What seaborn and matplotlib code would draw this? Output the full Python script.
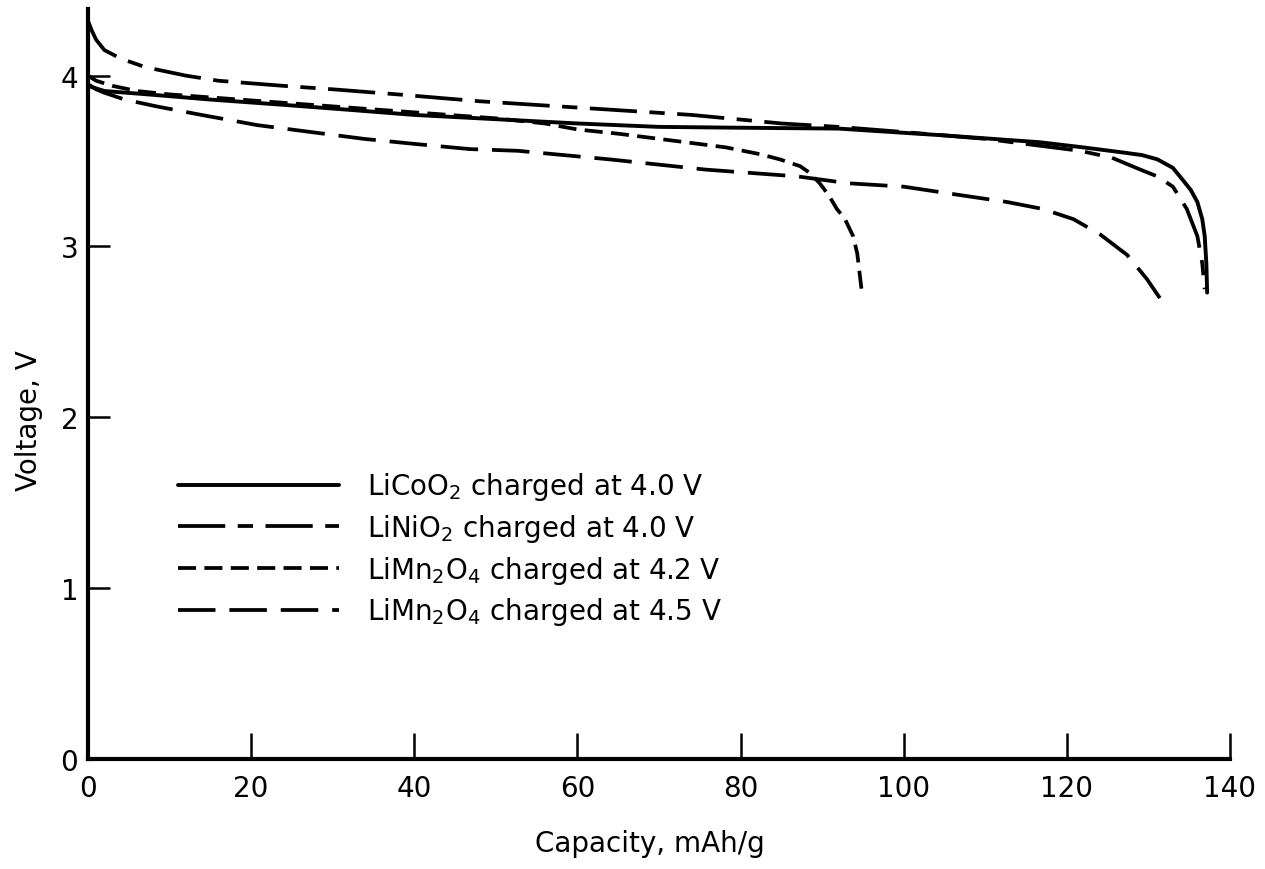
import matplotlib
matplotlib.use("Agg")
import matplotlib.pyplot as plt
import seaborn as sns

# Curvas de descarga
licoo2_cap = [0, 2, 7.4, 15, 23.7, 32, 40, 48, 60, 70, 80, 92, 105, 116.7, 122,
              126.9, 129.2, 131.1, 133.0, 134.2, 135.2, 136.0, 136.6, 136.9,
              137.1, 137.2]
licoo2_v = [3.94, 3.91, 3.89, 3.86, 3.83, 3.80, 3.77, 3.75, 3.72, 3.70, 3.695,
            3.69, 3.65, 3.61, 3.58, 3.55, 3.535, 3.51, 3.46, 3.39, 3.33, 3.26,
            3.16, 3.06, 2.90, 2.73]

linio2_cap = [0, 0.5, 1, 2, 4, 7, 12, 16, 24, 30, 38, 48, 61, 74, 85, 92, 100,
              110, 121.6, 125.5, 129.0, 131.1, 133.0, 134.7, 136.0, 136.6,
              136.9]
linio2_v = [4.32, 4.26, 4.21, 4.15, 4.10, 4.05, 4.00, 3.97, 3.94, 3.92, 3.89,
            3.85, 3.81, 3.77, 3.72, 3.70, 3.67, 3.63, 3.56, 3.52, 3.45, 3.41,
            3.35, 3.22, 3.06, 2.90, 2.75]

mn42_cap = [0, 1, 3, 6, 10, 20, 30, 40, 50, 56, 60, 65, 70, 78.2, 82.4, 84.8,
            87.3, 88.5, 89.7, 90.8, 91.8, 92.8, 93.8, 94.3, 94.6, 94.9]
mn42_v = [4.00, 3.97, 3.94, 3.91, 3.89, 3.855, 3.82, 3.785, 3.75, 3.72, 3.685,
          3.66, 3.63, 3.58, 3.54, 3.51, 3.47, 3.43, 3.37, 3.30, 3.22, 3.16,
          3.06, 2.96, 2.84, 2.72]

mn45_cap = [0, 1, 2, 4.5, 8.4, 13.9, 20.8, 27.3, 33.8, 40.1, 46.8, 52.7, 63.9,
            75.7, 87, 93.2, 100, 107, 112.7, 117, 120.8, 124.1, 127.4, 129.8,
            131.8]
mn45_v = [3.95, 3.92, 3.90, 3.86, 3.82, 3.77, 3.71, 3.67, 3.63, 3.60, 3.57,
          3.56, 3.51, 3.45, 3.41, 3.37, 3.35, 3.30, 3.26, 3.22, 3.16, 3.07,
          2.95, 2.81, 2.67]

rotulos = [
    r"LiCoO$_2$ charged at 4.0 V",
    r"LiNiO$_2$ charged at 4.0 V",
    r"LiMn$_2$O$_4$ charged at 4.2 V",
    r"LiMn$_2$O$_4$ charged at 4.5 V",
]
x_ticks = [0, 20, 40, 60, 80, 100, 120, 140]
y_ticks = [0, 1, 2, 3, 4]

sns.set_theme(style="white")
plt.rcParams["font.family"] = ["DejaVu Sans"]
plt.rcParams["lines.scale_dashes"] = False
plt.rcParams["mathtext.default"] = "regular"

fig = plt.figure(figsize=(12.65, 8.7), dpi=100)
ax = fig.add_axes([88 / 1265, 1 - 760 / 870, 1142 / 1265, 750 / 870])

series = [
    (licoo2_cap, licoo2_v, "-", 2.8),
    (linio2_cap, linio2_v, (0, (34, 9, 11, 9)), 2.7),
    (mn42_cap, mn42_v, (0, (13, 6)), 2.7),
    (mn45_cap, mn45_v, (0, (27, 10)), 2.7),
]
for (cap, v, ls, lw), rot in zip(series, rotulos):
    sns.lineplot(x=cap, y=v, ax=ax, color="black", linestyle=ls, linewidth=lw,
                 estimator=None, label=rot)

ax.set_xlim(0, 140)
ax.set_ylim(0, 4.39)
ax.set_xticks(x_ticks)
ax.set_yticks(y_ticks)

for lado in ["top", "right"]:
    ax.spines[lado].set_visible(False)
for lado in ["left", "bottom"]:
    ax.spines[lado].set_color("black")
    ax.spines[lado].set_linewidth(3)

ax.tick_params(axis="x", bottom=True, direction="in", length=19, width=1.8,
               pad=11, labelsize=20, colors="black")
ax.tick_params(axis="y", left=True, direction="in", length=16, width=1.8,
               pad=7, labelsize=20, colors="black")

ax.set_xlabel("Capacity, mAh/g", fontsize=20, color="black")
ax.set_ylabel("Voltage, V", fontsize=20, color="black")
ax.xaxis.set_label_coords(0.492, -0.093)
ax.yaxis.set_label_coords(-0.039, 0.453)

leg = ax.legend(loc="upper left", bbox_to_anchor=(0.079, 0.385), frameon=False,
                fontsize=20, handlelength=5.8, handletextpad=1.0,
                labelspacing=0.35, borderpad=0, borderaxespad=0)
for t in leg.get_texts():
    t.set_color("black")

plt.savefig("out.png", dpi=100)
